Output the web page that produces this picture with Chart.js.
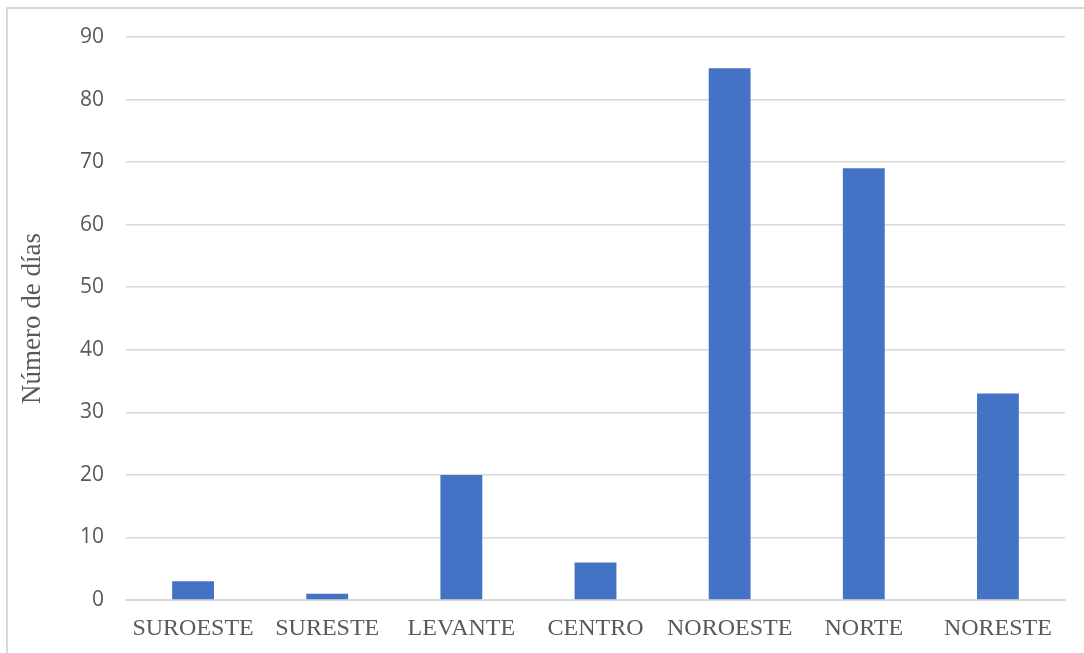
<!DOCTYPE html>
<html>
<head>
<meta charset="utf-8">
<script src="https://cdn.jsdelivr.net/npm/chart.js@4"></script>
<style>
  html, body { margin: 0; padding: 0; background: #ffffff; }
  #wrap { position: relative; width: 1084px; height: 653px; overflow: hidden; }
  #frame { position: absolute; left: 6px; top: 7px; width: 1200px; height: 800px;
           border-left: 2px solid #d9d9d9; border-top: 2px solid #d9d9d9; }
  canvas { position: absolute; left: 0; top: 0; }
</style>
</head>
<body>
<div id="wrap">
  <div id="frame"></div>
  <canvas id="windChart" width="1084" height="653"></canvas>
</div>
<script>
// wind direction categories and number of days
const categories = ['SUROESTE', 'SURESTE', 'LEVANTE', 'CENTRO', 'NOROESTE', 'NORTE', 'NORESTE'];
const days = [3, 1, 20, 6, 85, 69, 33];
const yMin = 0;
const yMax = 90;
const yStep = 10;
const yTitle = 'Número de días';

const textColor = '#595959';
const gridColor = '#d9d9d9';

const ctx = document.getElementById('windChart').getContext('2d');
new Chart(ctx, {
    type: 'bar',
    data: {
        labels: categories,
        datasets: [{
            data: days,
            backgroundColor: '#4472C4',
            borderWidth: 0,
            barPercentage: 0.312,
            categoryPercentage: 1
        }]
    },
    options: {
        responsive: false,
        animation: false,
        devicePixelRatio: 1,
        layout: { padding: { left: 0, top: 37, right: 19, bottom: 0 } },
        plugins: { legend: { display: false }, tooltip: { enabled: false } },
        scales: {
            x: {
                grid: { display: false, drawTicks: false },
                border: { color: gridColor, width: 2 },
                ticks: {
                    color: textColor,
                    font: { family: 'Liberation Serif', size: 24 },
                    padding: 14,
                    maxRotation: 0,
                    autoSkip: false
                },
                afterFit: (scale) => { scale.height = 53; }
            },
            y: {
                min: yMin,
                max: yMax,
                grid: { color: gridColor, lineWidth: 1.5, drawTicks: false },
                border: { display: false },
                ticks: {
                    stepSize: yStep,
                    color: textColor,
                    font: { family: 'Open Sans', size: 21 },
                    padding: 22
                },
                title: {
                    display: true,
                    text: yTitle,
                    color: textColor,
                    font: { family: 'Liberation Serif', size: 27 },
                    padding: { top: 17, bottom: 0 }
                },
                afterFit: (scale) => { scale.width = 126; }
            }
        }
    }
});
</script>
</body>
</html>
